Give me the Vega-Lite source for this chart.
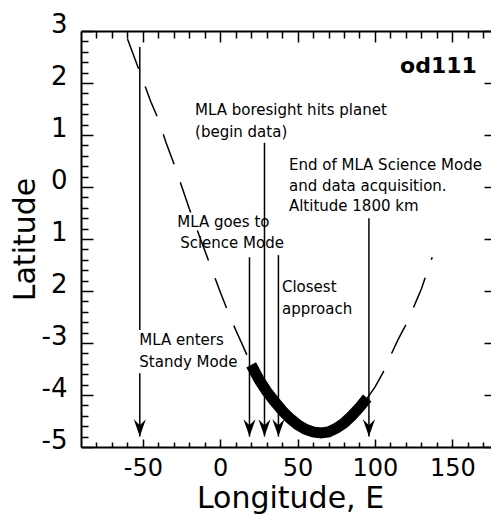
{
  "$schema": "https://vega.github.io/schema/vega-lite/v6.json",
  "width": 410,
  "height": 416,
  "autosize": {"type": "none"},
  "padding": {"left": 81, "top": 31, "right": 0, "bottom": 67},
  "background": "white",
  "config": {
    "view": {"stroke": null},
    "axis": {"domainColor": "black", "tickColor": "black", "labelColor": "black", "titleColor": "black", "grid": false, "labelFont": "DejaVu Sans", "titleFont": "DejaVu Sans", "titleFontWeight": "normal", "labelFlush": false, "labelOverlap": false}
  },
  "datasets": {
    "curve": [
      {"lon": -60, "lat": 2.85}, {"lon": -55, "lat": 2.45}, {"lon": -50, "lat": 2.05}, {"lon": -45, "lat": 1.65},
      {"lon": -40, "lat": 1.3}, {"lon": -35, "lat": 0.85}, {"lon": -30, "lat": 0.45}, {"lon": -25, "lat": 0.02},
      {"lon": -20, "lat": -0.42}, {"lon": -15, "lat": -0.82}, {"lon": -10, "lat": -1.22}, {"lon": -5, "lat": -1.62},
      {"lon": 0, "lat": -2.02}, {"lon": 5, "lat": -2.4}, {"lon": 10, "lat": -2.75}, {"lon": 15, "lat": -3.08},
      {"lon": 20, "lat": -3.42}, {"lon": 25, "lat": -3.7}, {"lon": 30, "lat": -3.93}, {"lon": 35, "lat": -4.12},
      {"lon": 40, "lat": -4.3}, {"lon": 45, "lat": -4.45}, {"lon": 50, "lat": -4.57}, {"lon": 55, "lat": -4.66},
      {"lon": 60, "lat": -4.71}, {"lon": 65, "lat": -4.73}, {"lon": 70, "lat": -4.71}, {"lon": 75, "lat": -4.64},
      {"lon": 80, "lat": -4.54}, {"lon": 85, "lat": -4.4}, {"lon": 90, "lat": -4.24}, {"lon": 95, "lat": -4.06},
      {"lon": 100, "lat": -3.85}, {"lon": 105, "lat": -3.58}, {"lon": 110, "lat": -3.25}, {"lon": 115, "lat": -2.93},
      {"lon": 120, "lat": -2.65}, {"lon": 125, "lat": -2.31}, {"lon": 130, "lat": -1.96}, {"lon": 135, "lat": -1.52},
      {"lon": 137, "lat": -1.35}
    ],
    "thick": [
      {"lon": 20, "lat": -3.42}, {"lon": 25, "lat": -3.7}, {"lon": 30, "lat": -3.93}, {"lon": 35, "lat": -4.12},
      {"lon": 40, "lat": -4.3}, {"lon": 45, "lat": -4.45}, {"lon": 50, "lat": -4.57}, {"lon": 55, "lat": -4.66},
      {"lon": 60, "lat": -4.71}, {"lon": 65, "lat": -4.73}, {"lon": 70, "lat": -4.71}, {"lon": 75, "lat": -4.64},
      {"lon": 80, "lat": -4.54}, {"lon": 85, "lat": -4.4}, {"lon": 90, "lat": -4.24}, {"lon": 95, "lat": -4.06}
    ],
    "arrows": [
      {"lon": -52, "top": 2.69, "bottom": -2.75},
      {"lon": -52, "top": -3.58, "bottom": -4.8},
      {"lon": 18.9, "top": -1.35, "bottom": -4.8},
      {"lon": 28.6, "top": 0.85, "bottom": -4.8},
      {"lon": 37.6, "top": -1.31, "bottom": -4.8},
      {"lon": 96.1, "top": -0.6, "bottom": -4.8}
    ],
    "heads": [
      {"lon": -52, "lat": -4.8}, {"lon": 18.9, "lat": -4.8}, {"lon": 28.6, "lat": -4.8},
      {"lon": 37.6, "lat": -4.8}, {"lon": 96.1, "lat": -4.8}
    ],
    "notes": [
      {"lon": -16.3, "lat": 1.48, "t": "MLA boresight hits planet"},
      {"lon": -16.3, "lat": 1.06, "t": "(begin data)"},
      {"lon": 44.4, "lat": 0.42, "t": "End of MLA Science Mode"},
      {"lon": 44.4, "lat": 0.02, "t": "and data acquisition."},
      {"lon": 44.4, "lat": -0.37, "t": "Altitude 1800 km"},
      {"lon": -27.8, "lat": -0.67, "t": "MLA goes to"},
      {"lon": -25.9, "lat": -1.08, "t": "Science Mode"},
      {"lon": 39.9, "lat": -1.92, "t": "Closest"},
      {"lon": 39.9, "lat": -2.35, "t": "approach"},
      {"lon": -52.3, "lat": -2.94, "t": "MLA enters"},
      {"lon": -52.3, "lat": -3.37, "t": "Standy Mode"}
    ],
    "tag": [{"lon": 165.9, "lat": 2.33, "t": "od111"}]
  },
  "layer": [
    {
      "data": {"name": "curve"},
      "mark": {"type": "line", "stroke": "black", "strokeWidth": 1.5, "strokeDash": [32, 19]},
      "encoding": {
        "x": {"field": "lon", "type": "quantitative", "scale": {"domain": [-90, 175], "nice": false, "zero": false},
          "axis": {"orient": "bottom", "values": [-50, 0, 50, 100, 150], "tickSize": -8, "tickWidth": 1.5, "domainWidth": 2, "labelFontSize": 24, "labelPadding": 17, "labelExpr": "'' + datum.value", "title": "Longitude, E", "titleFontSize": 30, "titleX": 209, "titleY": 60, "titleAlign": "center", "titleBaseline": "alphabetic"}},
        "y": {"field": "lat", "type": "quantitative", "scale": {"domain": [-5, 3], "nice": false, "zero": false},
          "axis": {"orient": "left", "values": [-5, -4, -3, -2, -1, 0, 1, 2, 3], "tickSize": -12, "tickWidth": 1.5, "domainWidth": 2, "labelFontSize": 26, "labelPadding": 26, "labelOffset": -7, "labelBaseline": "middle", "labelExpr": "datum.value < 0 && datum.value > -3 ? '' + (-datum.value) : '' + datum.value", "title": "Latitude", "titleFontSize": 30, "titleX": -56, "titleY": 208, "titleAngle": -90, "titleAlign": "center", "titleBaseline": "middle"}}
      }
    },
    {
      "data": {"name": "thick"},
      "mark": {"type": "line", "stroke": "black", "strokeWidth": 11, "strokeCap": "butt"},
      "encoding": {
        "x": {"field": "lon", "type": "quantitative", "scale": {"domain": [-90, 175], "nice": false, "zero": false},
          "axis": {"orient": "bottom", "values": [-80, -70, -60, -40, -30, -20, -10, 10, 20, 30, 40, 60, 70, 80, 90, 110, 120, 130, 140, 160, 170], "tickSize": -5, "tickWidth": 1.5, "labels": false, "domain": false, "title": null}},
        "y": {"field": "lat", "type": "quantitative", "scale": {"domain": [-5, 3], "nice": false, "zero": false},
          "axis": {"orient": "left", "values": [-4.8, -4.6, -4.4, -4.2, -3.8, -3.6, -3.4, -3.2, -2.8, -2.6, -2.4, -2.2, -1.8, -1.6, -1.4, -1.2, -0.8, -0.6, -0.4, -0.2, 0.2, 0.4, 0.6, 0.8, 1.2, 1.4, 1.6, 1.8, 2.2, 2.4, 2.6, 2.8], "tickSize": -7, "tickWidth": 1.5, "labels": false, "domain": false, "title": null}}
      }
    },
    {
      "data": {"name": "arrows"},
      "mark": {"type": "rule", "stroke": "black", "strokeWidth": 1.5},
      "encoding": {
        "x": {"field": "lon", "type": "quantitative", "scale": {"domain": [-90, 175], "nice": false, "zero": false},
          "axis": {"orient": "top", "values": [-50, 0, 50, 100, 150], "tickSize": -11, "tickWidth": 1.5, "domainWidth": 2, "labels": false, "title": null}},
        "y": {"field": "top", "type": "quantitative", "scale": {"domain": [-5, 3], "nice": false, "zero": false},
          "axis": {"orient": "right", "values": [-5, -4, -3, -2, -1, 0, 1, 2, 3], "tickSize": -7, "tickWidth": 1.5, "labels": false, "domain": false, "title": null}},
        "y2": {"field": "bottom"}
      }
    },
    {
      "data": {"name": "heads"},
      "mark": {"type": "point", "shape": "M0,0L-0.7,-2L0,-1.3L0.7,-2Z", "filled": true, "color": "black", "opacity": 1, "size": 300, "strokeWidth": 0},
      "encoding": {
        "x": {"field": "lon", "type": "quantitative", "scale": {"domain": [-90, 175], "nice": false, "zero": false},
          "axis": {"orient": "top", "values": [-80, -70, -60, -40, -30, -20, -10, 10, 20, 30, 40, 60, 70, 80, 90, 110, 120, 130, 140, 160, 170], "tickSize": -7, "tickWidth": 1.5, "labels": false, "domain": false, "title": null}},
        "y": {"field": "lat", "type": "quantitative", "scale": {"domain": [-5, 3], "nice": false, "zero": false}, "axis": null}
      }
    },
    {
      "data": {"name": "notes"},
      "mark": {"type": "text", "align": "left", "baseline": "middle", "font": "DejaVu Sans", "fontSize": 15, "color": "black"},
      "encoding": {
        "x": {"field": "lon", "type": "quantitative", "scale": {"domain": [-90, 175], "nice": false, "zero": false}, "axis": null},
        "y": {"field": "lat", "type": "quantitative", "scale": {"domain": [-5, 3], "nice": false, "zero": false}, "axis": null},
        "text": {"field": "t"}
      }
    },
    {
      "data": {"name": "tag"},
      "mark": {"type": "text", "align": "right", "baseline": "middle", "font": "DejaVu Sans", "fontSize": 22, "fontWeight": "bold", "color": "black"},
      "encoding": {
        "x": {"field": "lon", "type": "quantitative", "scale": {"domain": [-90, 175], "nice": false, "zero": false}, "axis": null},
        "y": {"field": "lat", "type": "quantitative", "scale": {"domain": [-5, 3], "nice": false, "zero": false}, "axis": null},
        "text": {"field": "t"}
      }
    }
  ],
  "resolve": {"axis": {"x": "independent", "y": "independent"}}
}
